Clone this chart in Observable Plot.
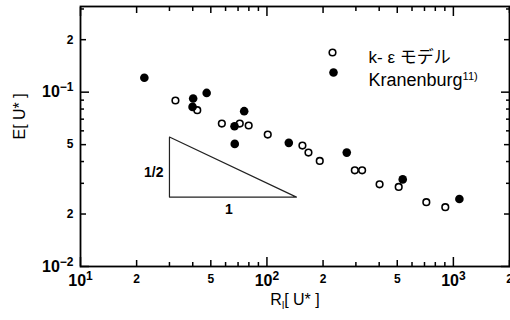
<!DOCTYPE html>
<html><head><meta charset="utf-8">
<script src="https://cdn.jsdelivr.net/npm/d3@7"></script>
<script src="https://cdn.jsdelivr.net/npm/@observablehq/plot@0.6"></script>
<style>body{margin:0;background:#fff;}</style>
</head><body><div id="chart"></div>
<script>
// k-ε model (open circles)
const keRi = [32.3, 42.3, 57.3, 71.5, 79.8, 101, 155, 167, 192, 296, 324, 402, 509, 716, 905];
const keE  = [0.0896, 0.0788, 0.066, 0.066, 0.0644, 0.0571, 0.0494, 0.045, 0.0403, 0.0356, 0.0356, 0.0296, 0.0286, 0.0234, 0.0219];
// Kranenburg (filled circles)
const krRi = [22.0, 40.2, 39.9, 47.5, 75.5, 67, 67.2, 131, 268, 535, 1077];
const krE  = [0.121, 0.092, 0.0823, 0.099, 0.0778, 0.0638, 0.0505, 0.0512, 0.045, 0.0316, 0.0244];
// slope triangle (-1/2)
const slopeRi = [30, 30, 144, 30];
const slopeE  = [0.0553, 0.025, 0.025, 0.0553];
// ticks
const xLabelTicks = [10, 20, 50, 100, 200, 500, 1000, 2000];
const yLabelTicks = [0.01, 0.02, 0.05, 0.1, 0.2];
const xMajorTicks = [10, 100, 1000];
const xMidTicks = [20, 50, 200, 500, 2000];
const xMinorTicks = [30, 40, 60, 70, 80, 90, 300, 400, 600, 700, 800, 900];
const yMajorTicks = [0.01, 0.1];
const yMidTicks = [0.02, 0.05, 0.2];
const yMinorTicks = [0.03, 0.04, 0.06, 0.07, 0.08, 0.09, 0.3];
const legendLabels = ["k- ε モデル", "Kranenburg"];
const xTitle = "Rl[ U* ]";
const yTitle = "E[ U* ]";

const ke = keRi.map((x, i) => ({Ri: x, E: keE[i]}));
const kr = krRi.map((x, i) => ({Ri: x, E: krE[i]}));
const slope = slopeRi.map((x, i) => ({Ri: x, E: slopeE[i]}));

// inward ticks on all four sides: axis ticks shifted back inside the frame
const tickStyle = {fill: "none", label: null, stroke: "black", strokeWidth: 1.5};
function ticksX(vals, len) {
  return [
    Plot.axisX({anchor: "bottom", ticks: vals, tickSize: len, dy: -len, ...tickStyle}),
    Plot.axisX({anchor: "top", ticks: vals, tickSize: len, dy: len, ...tickStyle})
  ];
}
function ticksY(vals, len) {
  return [
    Plot.axisY({anchor: "left", ticks: vals, tickSize: len, dx: len, ...tickStyle}),
    Plot.axisY({anchor: "right", ticks: vals, tickSize: len, dx: -len, ...tickStyle})
  ];
}
const fmt = d => {
  const e = Math.log10(d);
  if (Math.abs(e - Math.round(e)) < 1e-9) return `10^${Math.round(e)}`;
  return String(Math.round(d / 10 ** Math.floor(e)));
};

const chart = Plot.plot({
  width: 510, height: 320,
  marginLeft: 80, marginRight: 1, marginTop: 6, marginBottom: 54,
  style: {fontFamily: "'Liberation Sans', Arial, 'Noto Sans CJK JP', sans-serif", background: "white", overflow: "visible", color: "black"},
  x: {type: "log", domain: [10, 2000]},
  y: {type: "log", domain: [0.01, 0.31]},
  marks: [
    Plot.line(slope, {x: "Ri", y: "E", stroke: "#222", strokeWidth: 1.2}),
    ...ticksX(xMajorTicks, 9), ...ticksX(xMidTicks, 6), ...ticksX(xMinorTicks, 4),
    ...ticksY(yMajorTicks, 9), ...ticksY(yMidTicks, 6), ...ticksY(yMinorTicks, 4),
    Plot.frame({stroke: "black", strokeWidth: 1.8}),
    Plot.axisX({anchor: "bottom", ticks: xLabelTicks, tickSize: 0, tickPadding: 8, tickFormat: fmt, label: null}),
    Plot.axisY({anchor: "left", ticks: yLabelTicks, tickSize: 0, tickPadding: 7, tickFormat: fmt, label: null}),
    Plot.dot(ke, {x: "Ri", y: "E", r: 3.3, stroke: "black", strokeWidth: 1.6, fill: "white"}),
    Plot.dot(kr, {x: "Ri", y: "E", r: 4.3, fill: "black"}),
    Plot.dot([legendLabels[0]], {frameAnchor: "top-left", dx: 252, dy: 46, r: 3.3, stroke: "black", strokeWidth: 1.6, fill: "white"}),
    Plot.dot([legendLabels[1]], {frameAnchor: "top-left", dx: 253, dy: 66, r: 4.3, fill: "black"}),
    Plot.text([legendLabels[0]], {text: d => d, frameAnchor: "top-left", dx: 288, dy: 44, textAnchor: "start", fontSize: 17}),
    Plot.text([legendLabels[1]], {text: d => d, frameAnchor: "top-left", dx: 288, dy: 67, textAnchor: "start", fontSize: 18}),
    Plot.text(["1/2"], {x: slopeRi[0], y: Math.sqrt(slopeE[0] * slopeE[1]), dx: -6, dy: 5, textAnchor: "end", fontSize: 14, fontWeight: "bold"}),
    Plot.text(["1"], {x: Math.sqrt(slopeRi[1] * slopeRi[2]), y: slopeE[1], dx: -4, dy: 12, fontSize: 14, fontWeight: "bold"}),
    Plot.text([yTitle], {frameAnchor: "left", dx: -61, dy: 3, rotate: -90, fontSize: 16}),
    Plot.text([xTitle], {frameAnchor: "bottom", dy: 38, fontSize: 16})
  ]
});

d3.select(chart).selectAll("text").each(function () {
  const el = d3.select(this);
  const t = el.text();
  const m = t.match(/^10\^(-?\d+)$/);
  if (m) {
    el.text("10").attr("font-size", 16).attr("font-weight", "bold");
    el.append("tspan").attr("dy", "-0.5em").attr("font-size", 12).text(m[1].replace("-", "−"));
  } else if (/^[25]$/.test(t)) {
    el.attr("font-size", 12).attr("font-weight", "bold");
  } else if (t === "Kranenburg") {
    el.append("tspan").attr("dy", "-0.55em").attr("font-size", 11).text("11)");
  } else if (t === xTitle) {
    el.text("R");
    el.append("tspan").attr("dy", 4).attr("font-size", 10).text("l");
    el.append("tspan").attr("dy", -4).text("[ U* ]");
  }
});

document.getElementById("chart").appendChild(chart);
</script>
</body></html>
